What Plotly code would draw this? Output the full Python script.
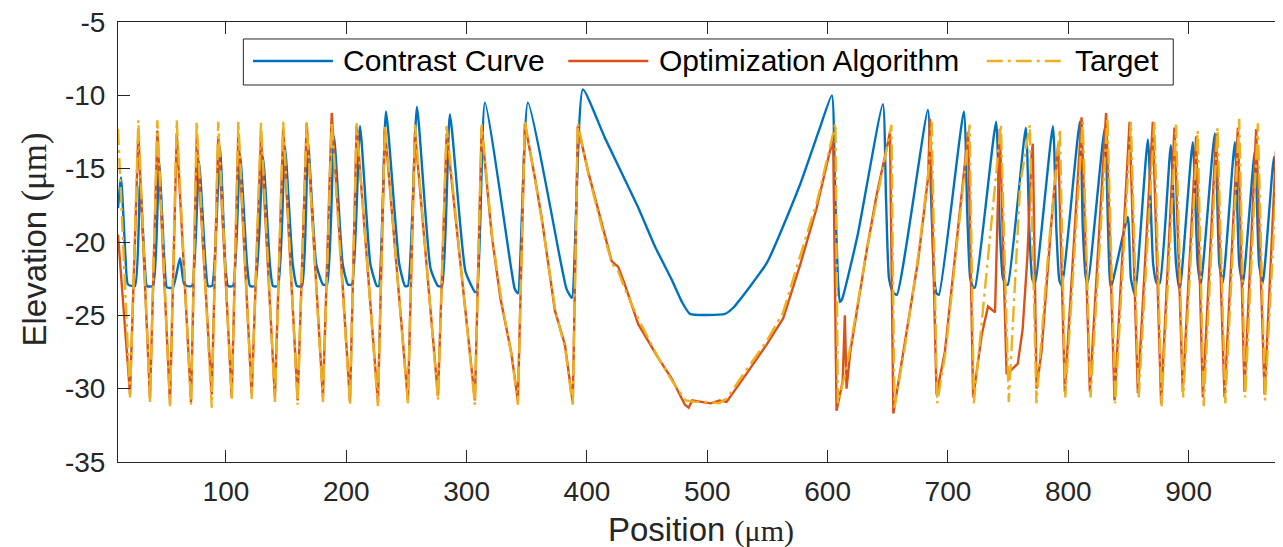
import plotly.graph_objects as go

# Contrast Curve (blue)
contrast_x = [10.3, 12.8, 16.5, 18.6, 24.4, 28.6, 32.5, 34.4, 39.4, 44.4,
              49.0, 51.0, 56.0, 61.8, 65.0, 67.6, 71.8, 77.6, 83.0, 85.1,
              88.4, 95.0, 99.5, 101.7, 105.8, 111.7, 117.5, 120.0, 124.1, 130.8,
              136.5, 139.1, 143.2, 149.0, 155.5, 159.0, 163.2, 168.2, 175.0, 180.6,
              184.0, 189.8, 197.0, 201.4, 204.7, 211.4, 220.0, 225.4, 227.1, 233.0,
              244.0, 248.8, 251.2, 258.7, 270.0, 276.2, 279.5, 286.1, 299.0, 306.9,
              308.6, 315.2, 337.0, 340.0, 342.6, 350.9, 378.5, 383.0, 387.4, 396.6,
              414.9, 442.3, 456.5, 470.6, 479.0, 485.6, 514.7, 521.3, 549.6, 577.0,
              593.6, 603.5, 606.0, 608.5, 610.2, 612.0, 625.0, 645.9, 648.5, 651.0,
              654.0, 657.5, 683.3, 686.0, 688.5, 690.5, 692.5, 713.2, 716.0, 718.5,
              721.0, 722.5, 740.0, 743.0, 745.5, 748.0, 749.8, 764.7, 767.5, 770.0,
              772.2, 787.2, 790.0, 792.5, 794.6, 809.6, 812.0, 814.5, 816.2, 830.3,
              833.0, 835.3, 849.4, 852.0, 855.3, 866.1, 870.5, 873.5, 876.0, 885.2,
              889.5, 892.6, 903.4, 907.5, 910.1, 921.7, 925.5, 928.4, 938.4, 942.0,
              945.0, 955.0, 958.5, 961.6, 970.9, 974.5, 978.4]
contrast_y = [-17.7, -15.6, -21.0, -22.9, -23.0, -16.0, -21.5, -23.0, -23.0, -14.5,
              -21.5, -23.1, -23.1, -21.1, -22.8, -23.0, -23.0, -14.5, -21.5, -23.0,
              -23.0, -13.5, -21.5, -23.0, -23.0, -14.0, -21.5, -23.0, -23.0, -14.2,
              -21.5, -23.0, -23.0, -13.5, -21.5, -23.0, -23.0, -13.2, -21.5, -22.9,
              -22.9, -12.8, -21.5, -22.9, -22.9, -12.1, -21.5, -23.0, -23.0, -11.1,
              -21.5, -23.0, -23.0, -10.8, -21.8, -23.0, -23.0, -11.3, -22.0, -23.4,
              -23.4, -10.5, -21.8, -23.2, -23.5, -10.5, -21.5, -23.2, -23.8, -9.6,
              -12.9, -17.6, -20.3, -22.6, -24.1, -24.9, -24.9, -24.5, -21.4, -16.1,
              -12.2, -10.0, -16.0, -22.5, -24.1, -23.9, -19.5, -10.6, -17.0, -22.5,
              -23.4, -23.6, -11.0, -17.0, -22.4, -23.5, -23.6, -11.1, -18.0, -22.5,
              -23.1, -23.1, -11.8, -19.0, -22.4, -22.9, -22.9, -12.2, -19.0, -22.5,
              -22.9, -12.1, -19.0, -22.6, -23.0, -11.8, -19.0, -22.4, -22.8, -12.2,
              -19.0, -23.1, -18.3, -22.5, -23.6, -13.0, -21.5, -22.8, -22.8, -13.4,
              -21.5, -23.3, -13.2, -21.5, -22.9, -12.6, -21.5, -22.8, -13.2, -21.5,
              -22.9, -13.8, -21.5, -22.8, -14.2, -21.5, -22.8]

# Optimization Algorithm (orange)
optim_x = [10.3, 20.3, 27.2, 36.9, 43.0, 53.5, 59.1, 71.0, 75.7, 88.2,
           93.6, 104.8, 110.3, 121.4, 129.1, 140.7, 147.6, 159.6, 167.1, 180.6,
           187.9, 203.1, 208.6, 226.3, 232.1, 251.2, 257.1, 276.2, 283.4, 306.9,
           312.5, 320.8, 328.0, 337.0, 342.6, 348.4, 356.7, 362.3, 373.4, 381.7,
           388.2, 392.4, 401.0, 414.9, 420.5, 426.0, 431.5, 442.6, 459.2, 470.3,
           481.4, 484.5, 487.5, 495.0, 503.0, 510.0, 516.0, 529.9, 549.3, 563.1,
           577.0, 590.8, 601.9, 604.6, 607.4, 612.5, 614.3, 615.7, 618.8, 632.4,
           640.7, 650.4, 651.8, 654.6, 663.9, 675.3, 683.5, 685.0, 690.5, 697.4,
           711.3, 716.8, 720.9, 728.1, 733.3, 739.1, 743.1, 748.7, 752.9, 758.0,
           762.0, 766.0, 769.5, 770.5, 773.6, 777.7, 786.1, 791.6, 797.1, 811.0,
           817.9, 831.4, 838.4, 850.9, 857.8, 870.2, 877.1, 888.2, 895.1, 906.2,
           911.8, 922.8, 929.8, 940.9, 946.4, 956.1, 963.1, 972.5, 978.4]
optim_y = [-19.5, -30.4, -12.6, -30.7, -12.4, -31.0, -12.6, -30.9, -12.9, -30.4,
           -12.8, -30.6, -12.6, -30.4, -12.8, -30.6, -12.3, -30.8, -11.9, -30.6,
           -11.2, -30.9, -12.1, -30.9, -12.3, -30.8, -12.5, -30.5, -12.6, -30.8,
           -12.2, -19.5, -23.8, -27.5, -30.8, -11.9, -15.6, -18.3, -24.7, -27.0,
           -31.0, -12.1, -15.2, -19.5, -21.3, -21.7, -22.9, -25.6, -27.9, -29.3,
           -31.1, -31.3, -30.8, -30.9, -31.0, -30.8, -30.9, -29.3, -27.0, -25.2,
           -21.6, -17.7, -13.8, -13.1, -31.5, -29.5, -25.0, -30.0, -27.5, -20.6,
           -16.8, -13.1, -12.5, -31.7, -27.1, -21.2, -15.6, -11.6, -30.4, -27.5,
           -16.8, -12.5, -30.6, -26.3, -24.4, -24.8, -12.3, -29.0, -28.7, -28.3,
           -26.0, -21.0, -14.0, -13.3, -30.0, -27.5, -18.5, -13.3, -30.2, -11.5,
           -30.2, -11.2, -30.8, -11.8, -30.3, -11.8, -31.0, -12.2, -30.2, -12.8,
           -30.6, -12.6, -30.6, -12.2, -30.2, -12.3, -30.4, -13.8, -22.5]

# Target (yellow, dash-dot)
target_x = [10.3, 20.3, 27.2, 36.9, 43.0, 53.5, 59.1, 71.0, 75.7, 88.2,
            93.6, 104.8, 110.3, 121.4, 129.1, 140.7, 147.6, 159.6, 167.1, 180.6,
            187.9, 203.1, 208.6, 226.3, 232.1, 251.2, 257.1, 276.2, 283.4, 306.9,
            312.5, 321.5, 329.0, 337.5, 342.6, 348.4, 357.0, 363.0, 374.0, 382.0,
            388.2, 392.4, 401.5, 415.0, 421.0, 426.0, 432.0, 443.0, 460.0, 471.0,
            482.0, 490.0, 500.0, 510.0, 517.0, 530.0, 549.0, 563.0, 577.0, 591.0,
            602.0, 606.5, 608.5, 616.0, 632.0, 641.0, 650.0, 653.0, 655.5, 664.5,
            676.0, 684.0, 686.5, 691.0, 698.0, 712.0, 718.0, 721.5, 744.0, 750.5,
            760.0, 768.0, 773.5, 784.0, 793.0, 797.5, 812.0, 818.5, 832.5, 839.0,
            852.0, 858.5, 871.5, 877.5, 889.5, 895.5, 907.5, 912.5, 924.0, 930.5,
            942.0, 947.0, 957.5, 963.5, 975.5, 978.4]
target_y = [-12.3, -30.6, -11.7, -30.9, -11.7, -31.2, -11.7, -31.1, -11.8, -31.3,
            -11.8, -30.8, -11.8, -30.7, -11.8, -30.9, -11.8, -31.1, -11.8, -30.9,
            -11.8, -31.1, -11.9, -31.2, -12.0, -31.0, -12.0, -30.8, -12.1, -31.1,
            -12.0, -19.8, -24.0, -27.8, -31.1, -11.8, -15.8, -18.8, -24.8, -27.3,
            -31.2, -11.9, -15.5, -19.8, -21.5, -22.0, -23.3, -25.3, -28.0, -29.5,
            -30.8, -30.9, -30.9, -31.0, -30.6, -29.0, -26.8, -24.8, -21.0, -17.3,
            -13.5, -11.9, -31.0, -28.5, -20.8, -17.0, -13.0, -12.0, -31.3, -27.0,
            -20.5, -15.0, -11.8, -31.0, -27.5, -16.5, -12.0, -31.0, -12.0, -30.9,
            -16.1, -12.0, -31.0, -20.0, -12.3, -30.6, -11.8, -30.6, -11.5, -31.0,
            -11.8, -30.6, -11.8, -31.2, -12.0, -30.6, -12.4, -31.2, -12.2, -31.0,
            -11.6, -30.6, -11.9, -30.8, -11.8, -18.0]

x_ticks = [100, 200, 300, 400, 500, 600, 700, 800, 900]
y_ticks = [-35, -30, -25, -20, -15, -10, -5]
y_tick_text = ["-35", "-30", "-25", "-20", "-15", "-10", "-5"]

BLUE = "#0072BD"
ORANGE = "#D95319"
YELLOW = "#EDB120"
AX = "#262626"
SANS = "Liberation Sans, Arial, Helvetica, sans-serif"
YDASH = "16px,5px,3px,5px"
LW = 2.4

fig = go.Figure()
# the contrast curve has rounded knees, so it is drawn as a light spline
fig.add_trace(go.Scatter(x=contrast_x, y=contrast_y, mode="lines", name="Contrast Curve",
                         line=dict(color=BLUE, width=LW, shape="spline", smoothing=0.5)))
fig.add_trace(go.Scatter(x=optim_x, y=optim_y, mode="lines", name="Optimization Algorithm",
                         line=dict(color=ORANGE, width=LW)))
fig.add_trace(go.Scatter(x=target_x, y=target_y, mode="lines", name="Target",
                         line=dict(color=YELLOW, width=LW, dash=YDASH)))

# the page body keeps an 8px margin, so the figure is 8px smaller than the window
fig.update_layout(
    width=1275, height=539,
    margin=dict(l=110, r=0, t=14, b=85),
    plot_bgcolor="white", paper_bgcolor="white",
    showlegend=False,
)
fig.update_xaxes(
    range=[10.3, 978.4], tickvals=x_ticks, ticks="inside", ticklen=12, tickcolor=AX,
    showline=True, linecolor=AX, linewidth=1, mirror="ticks",
    showgrid=False, zeroline=False, ticklabelstandoff=4, ticklabeloverflow="allow",
    tickfont=dict(family=SANS, size=28, color=AX),
)
fig.update_yaxes(
    range=[-35, -5], tickvals=y_ticks, ticktext=y_tick_text, ticks="inside", ticklen=12,
    tickcolor=AX, showline=True, linecolor=AX, linewidth=1, mirror=False,
    showgrid=False, zeroline=False, ticklabelstandoff=6, ticklabeloverflow="allow",
    tickfont=dict(family=SANS, size=28, color=AX),
)

# axis titles (unit in a serif face as in the original)
fig.add_annotation(
    x=0.5, y=-0.153, xref="paper", yref="paper", showarrow=False,
    xanchor="center", yanchor="middle",
    text="Position <span style='font-family:Liberation Serif, serif; font-size:30px'>(\u03bcm)</span>",
    font=dict(family=SANS, size=33, color=AX),
)
fig.add_annotation(
    x=-0.0725, y=0.5045, xref="paper", yref="paper", showarrow=False,
    xanchor="center", yanchor="middle", textangle=-90,
    text="Elevation <span style='font-family:Liberation Serif, serif; font-size:35px'>(\u03bcm)</span>",
    font=dict(family=SANS, size=33, color=AX),
)

# legend box drawn in the MATLAB style (long line samples)
fig.add_shape(type="rect", xref="paper", yref="paper",
              x0=0.1076, x1=0.9058, y0=0.8568, y1=0.9614,
              line=dict(color=AX, width=1), fillcolor="white", layer="above")
legend_items = [
    ("Contrast Curve", BLUE, "solid", 0.1159, 0.1845, 0.1917),
    ("Optimization Algorithm", ORANGE, "solid", 0.3865, 0.4552, 0.4629),
    ("Target", YELLOW, YDASH, 0.7457, 0.8129, 0.8198),
]
for label, color, dash, lx0, lx1, tx in legend_items:
    fig.add_shape(type="line", xref="paper", yref="paper", x0=lx0, x1=lx1,
                  y0=0.9114, y1=0.9114, line=dict(color=color, width=LW, dash=dash),
                  layer="above")
    fig.add_annotation(x=tx, y=0.9114, xref="paper", yref="paper", showarrow=False,
                       xanchor="left", yanchor="middle", text=label,
                       font=dict(family=SANS, size=30, color="black"))

fig.write_html("out.html")
